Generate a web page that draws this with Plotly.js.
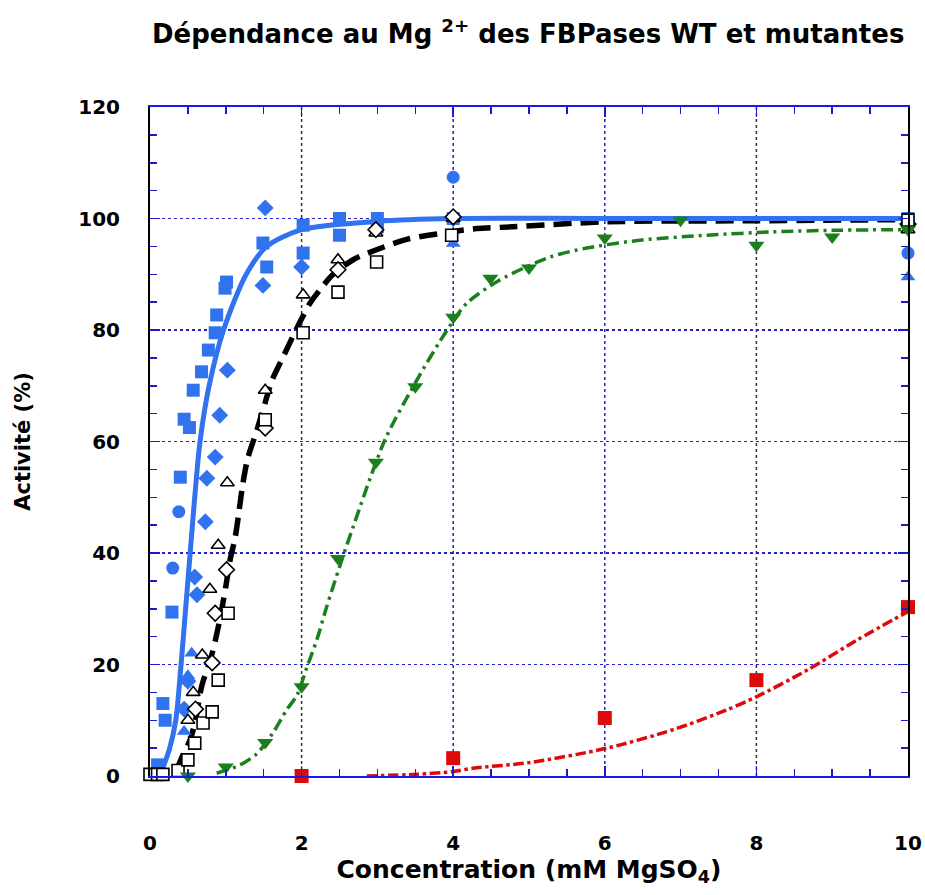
<!DOCTYPE html>
<html>
<head>
<meta charset="utf-8">
<script src="https://cdn.plot.ly/plotly-3.0.1.min.js"></script>
<style>html,body{margin:0;padding:0;background:#fff;}#chart{width:925px;height:895px;}</style>
</head>
<body>
<div id="chart"></div>
<script>
// ---- WT (blue) ----
var wtSquareX = [0.1, 0.17, 0.2, 0.29, 0.4, 0.45, 0.52, 0.57, 0.68, 0.77, 0.86, 0.88, 0.99, 1.01, 1.49, 1.54, 2.02, 2.02, 2.5, 2.5, 3.0, 3.0, 4.0, 10];
var wtSquareY = [2, 13, 10, 29.4, 53.6, 64, 62.5, 69.2, 72.5, 76.4, 79.5, 82.7, 87.5, 88.6, 95.6, 91.3, 98.8, 93.8, 100, 97, 100, 98.5, 100, 100];
var wtCircleX = [0.3, 0.38, 4.0, 10];
var wtCircleY = [37.3, 47.4, 107.4, 93.8];
var wtDiamondX = [0.45, 0.5, 0.59, 0.62, 0.73, 0.75, 0.86, 0.92, 1.02, 1.49, 1.52, 2.0, 4.0, 10];
var wtDiamondY = [12, 17, 35.7, 32.5, 45.6, 53.4, 57.2, 64.7, 72.8, 88, 101.9, 91.3, 100, 99];
var wtTriangleX = [0.45, 0.5, 0.55, 4.0, 10];
var wtTriangleY = [8, 18, 22, 95.5, 89.5];
var wtFitX = [0.13, 0.26, 0.34, 0.41, 0.47, 0.53, 0.59, 0.66, 0.78, 0.97, 1.27, 1.54, 2.0, 3.0, 4.0, 6.0, 10];
var wtFitY = [0, 5, 10, 20, 30, 40, 50, 60, 70, 80, 90, 95, 98, 99.5, 100, 100, 100];

// ---- mutant 1 (black, open symbols) ----
var m1TriangleX = [0.5, 0.57, 0.69, 0.79, 0.9, 1.02, 1.52, 2.02, 2.48, 2.98, 4.0, 10];
var m1TriangleY = [10, 15, 21.7, 33.5, 41.4, 52.6, 69.2, 86.3, 92.6, 97.4, 100, 98];
var m1DiamondX = [0.6, 0.82, 0.86, 1.01, 1.52, 2.48, 2.98, 4.0, 10];
var m1DiamondY = [12, 20.3, 29.2, 37, 62.4, 90.8, 98, 100.3, 99];
var m1SquareX = [0, 0.1, 0.17, 0.37, 0.5, 0.59, 0.7, 0.82, 0.9, 1.03, 1.52, 2.02, 2.48, 2.99, 3.98, 10];
var m1SquareY = [0.3, 0.3, 0.3, 1, 2.9, 5.9, 9.5, 11.5, 17.2, 29.2, 63.9, 79.5, 86.8, 92.2, 97, 99.7];
var m1FitX = [0.35, 0.44, 0.53, 0.6, 0.68, 0.82, 0.92, 1.0, 1.06, 1.12, 1.17, 1.22, 1.29, 1.41, 1.52, 1.61, 1.75, 1.89, 2.0, 2.11, 2.27, 2.41, 2.68, 2.97, 3.4, 3.87, 4.31, 4.78, 6.0, 8.0, 10];
var m1FitY = [1, 4, 6.5, 10, 16, 22, 28, 34, 39, 42.5, 47, 52, 57, 62, 67, 71, 75, 79, 82, 84.8, 87.7, 89.9, 92.6, 94.3, 96.3, 97.4, 98.2, 98.5, 99.4, 99.6, 99.8];

// ---- mutant 2 (green) ----
var m2X = [0.5, 1.0, 1.52, 2.0, 2.48, 2.98, 3.5, 4.0, 4.49, 5.0, 6.0, 7.0, 8.0, 9.0, 10];
var m2Y = [0, 1.6, 6, 16, 39, 56.3, 69.8, 82.3, 89.3, 91.1, 96.5, 99.7, 95.2, 96.7, 98];
var m2FitX = [0.88, 1.19, 1.41, 1.62, 1.8, 1.94, 2.07, 2.2, 2.33, 2.5, 2.68, 3.1, 3.52, 3.92, 4.18, 4.62, 5.28, 5.76, 6.46, 7.35, 8.2, 9.1, 10];
var m2FitY = [0.5, 2, 4, 7.7, 11.8, 14.5, 19.5, 24.4, 30.3, 37.5, 44.7, 60.3, 71, 80, 84.8, 89, 93.1, 94.7, 96.1, 97, 97.6, 97.9, 98];

// ---- mutant 3 (red) ----
var m3X = [2, 4, 6, 8, 10];
var m3Y = [0, 3.2, 10.4, 17.2, 30.3];
var m3FitX = [2.86, 3.5, 4.0, 4.26, 5.0, 6.03, 6.9, 7.6, 8.0, 8.67, 9.33, 10];
var m3FitY = [0, 0.3, 0.8, 1.4, 2.4, 5, 8.3, 11.8, 14.2, 19, 24.4, 29.5];

var xTickVals = [0, 2, 4, 6, 8, 10];
var yTickVals = [0, 20, 40, 60, 80, 100, 120];

var BLUE = '#3172ee', GREEN = '#1b7f1b', RED = '#dd0a0a';
var FONT = 'DejaVu Sans, Verdana, sans-serif';

function fit(x, y, color, width, dash) {
  return {x: x, y: y, type: 'scatter', mode: 'lines', hoverinfo: 'skip',
    line: {color: color, width: width, dash: dash, shape: 'spline', smoothing: 0.8}, cliponaxis: false};
}
function pts(x, y, symbol, color, size, open) {
  return {x: x, y: y, type: 'scatter', mode: 'markers', cliponaxis: false,
    marker: open ? {symbol: symbol, size: size, color: '#ffffff', line: {color: '#000000', width: 1.6}}
                 : {symbol: symbol, size: size, color: color, line: {width: 0}}};
}

var data = [
  fit(m3FitX, m3FitY, RED, 3.5, 'dashdot'),
  fit(m2FitX, m2FitY, GREEN, 3.5, '12px,5px,3px,5px'),
  fit(m1FitX, m1FitY, '#000000', 5.5, '18px,9px'),
  fit(wtFitX, wtFitY, BLUE, 5, 'solid'),
  pts(wtSquareX, wtSquareY, 'square', BLUE, 13, false),
  pts(wtCircleX, wtCircleY, 'circle', BLUE, 13, false),
  pts(wtDiamondX, wtDiamondY, 'diamond', BLUE, 13, false),
  pts(wtTriangleX, wtTriangleY, 'triangle-up', BLUE, 13, false),
  pts(m1TriangleX, m1TriangleY, 'triangle-up', '#000', 12, true),
  pts(m1DiamondX, m1DiamondY, 'diamond', '#000', 12, true),
  pts(m1SquareX, m1SquareY, 'square', '#000', 12, true),
  pts(m2X, m2Y, 'triangle-down', GREEN, 14, false),
  pts(m3X, m3Y, 'square', RED, 14, false)
];

var gridShapes = [];
[[2, '#333333'], [4, '#2222cc'], [6, '#2222cc'], [8, '#333333']].forEach(function (g) {
  gridShapes.push({type: 'line', xref: 'x', yref: 'paper', x0: g[0], x1: g[0], y0: 0, y1: 1,
    layer: 'between', line: {color: g[1], width: 1.5, dash: 'dot'}});
});

var layout = {
  width: 925, height: 895,
  margin: {l: 150, r: 17, t: 107, b: 119},
  paper_bgcolor: '#ffffff', plot_bgcolor: '#ffffff',
  showlegend: false,
  title: {text: 'Dépendance au Mg <sup>2+</sup> des FBPases WT et mutantes',
    font: {family: FONT, size: 26, color: '#000', weight: 'bold'},
    x: 0.571, xanchor: 'center', y: 0.962, yanchor: 'middle'},
  xaxis: {
    range: [0, 10], tickvals: xTickVals, ticktext: xTickVals.map(String),
    ticks: 'inside', ticklen: 10, tickwidth: 1.5, tickcolor: '#1a1ad0',
    minor: {dtick: 0.5, tick0: 0, ticks: 'inside', ticklen: 7, tickwidth: 1.5, tickcolor: '#1a1ad0', showgrid: false},
    showline: true, linecolor: '#1a1aee', linewidth: 2, mirror: 'ticks',
    showgrid: false, zeroline: false,
    tickfont: {family: FONT, size: 20, color: '#000', weight: 'bold'},
    ticklabelstandoff: 48,
    title: {text: 'Concentration (mM MgSO<sub>4</sub>)', font: {family: FONT, size: 25, color: '#000', weight: 'bold'}, standoff: 6}
  },
  yaxis: {
    range: [0, 120], tickvals: yTickVals, ticktext: yTickVals.map(String),
    ticks: 'inside', ticklen: 10, tickwidth: 1.5, tickcolor: '#1a1ad0',
    minor: {dtick: 5, tick0: 0, ticks: 'inside', ticklen: 7, tickwidth: 1.5, tickcolor: '#1a1ad0', showgrid: false},
    showline: true, linecolor: '#000000', linewidth: 2, mirror: 'ticks',
    showgrid: true, gridcolor: '#2222cc', gridwidth: 1.5, griddash: 'dot', zeroline: false,
    tickfont: {family: FONT, size: 20, color: '#000', weight: 'bold'},
    ticklabelstandoff: 24,
    title: {text: 'Activité (%)', font: {family: FONT, size: 21, color: '#000', weight: 'bold'}, standoff: 42}
  },
  shapes: gridShapes
};

Plotly.newPlot('chart', data, layout, {displayModeBar: false, staticPlot: true});
</script>
</body>
</html>
